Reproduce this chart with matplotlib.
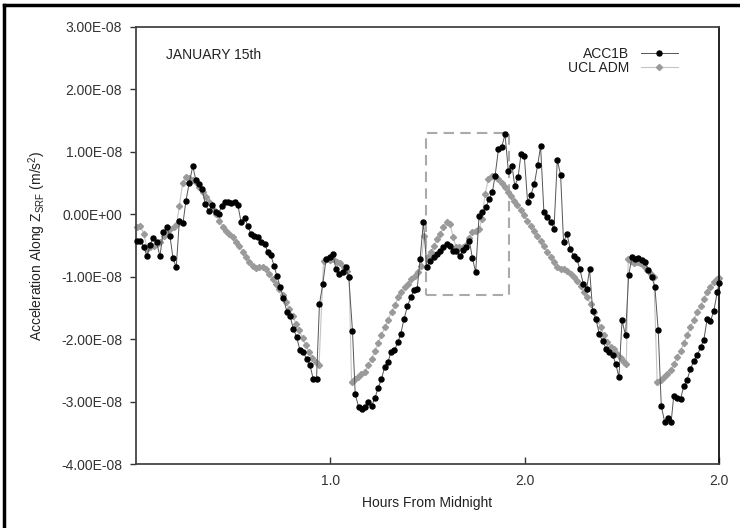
import matplotlib
matplotlib.use("Agg")
import matplotlib.pyplot as plt
from matplotlib.patches import Rectangle
from matplotlib.lines import Line2D
from matplotlib.ticker import FuncFormatter
import numpy as np

plt.rcParams['font.family'] = ['Liberation Sans', 'DejaVu Sans']

SCALE = 1e-8

acc_hours = [0.005,0.022,0.040,0.057,0.072,0.089,0.106,0.123,0.140,0.158,0.175,0.190,0.207,0.223,0.242,
             0.257,0.274,0.292,0.308,0.325,0.341,0.356,0.374,0.392,0.410,0.425,0.441,0.459,0.474,0.488,
             0.507,0.524,0.541,0.559,0.576,0.591,0.608,0.626,0.643,0.662,0.677,0.694,0.711,0.725,0.742,
             0.759,0.776,0.793,0.809,0.826,0.843,0.860,0.878,0.895,0.912,0.929,0.944,0.961,0.978,0.997,
             1.014,1.028,1.045,1.063,1.080,1.095,1.114,1.128,1.145,1.162,1.179,1.196,1.212,1.229,1.246,
             1.263,1.280,1.297,1.312,1.330,1.347,1.362,1.379,1.397,1.414,1.431,1.447,1.462,1.479,1.496,
             1.513,1.531,1.548,1.565,1.582,1.599,1.616,1.633,1.648,1.666,1.683,1.700,1.715,1.731,1.748,
             1.765,1.783,1.799,1.817,1.834,1.848,1.865,1.882,1.899,1.916,1.935,1.949,1.966,1.981,1.998,
             2.015,2.032,2.050,2.067,2.082,2.099,2.117,2.134,2.151,2.168,2.185,2.200,2.218,2.235,2.252,
             2.269,2.284,2.302,2.319,2.334,2.350,2.367,2.384,2.401,2.418,2.435,2.452,2.469,2.485,2.501,
             2.519,2.535,2.552,2.567,2.585,2.602,2.619,2.636,2.653,2.670,2.687,2.703,2.720,2.737,2.754,
             2.767,2.785,2.802,2.819,2.836,2.853,2.870,2.888,2.905,2.922,2.939,2.956,2.973,2.991,3.000]
acc_vals = [-0.42,-0.42,-0.53,-0.67,-0.49,-0.38,-0.45,-0.67,-0.29,-0.21,-0.35,-0.70,-0.85,-0.11,-0.14,
            0.22,0.50,0.77,0.55,0.48,0.40,0.17,0.05,0.15,0.04,0.01,0.13,0.19,0.20,0.18,
            0.20,0.15,-0.13,-0.06,-0.19,-0.31,-0.34,-0.37,-0.44,-0.47,-0.60,-0.66,-0.83,-0.99,-1.16,
            -1.34,-1.56,-1.63,-1.83,-1.96,-2.17,-2.20,-2.32,-2.41,-2.64,-2.64,-1.44,-1.12,-0.72,-0.68,
            -0.64,-0.87,-0.96,-0.92,-0.84,-1.01,-1.87,-2.88,-3.08,-3.12,-3.08,-3.00,-3.07,-2.95,-2.78,
            -2.64,-2.44,-2.36,-2.21,-2.18,-2.05,-1.92,-1.68,-1.47,-1.33,-1.21,-1.19,-0.71,-0.12,-0.84,
            -0.75,-0.69,-0.64,-0.59,-0.53,-0.47,-0.51,-0.59,-0.59,-0.67,-0.58,-0.53,-0.42,-0.70,-0.93,
            -0.03,0.03,0.11,0.24,0.36,0.62,1.04,1.08,1.28,0.69,0.78,0.45,0.59,0.96,0.94,
            0.20,0.31,0.49,0.79,1.09,0.03,-0.05,-0.12,-0.23,0.87,0.63,-0.44,-0.32,-0.56,-0.67,
            -0.72,-0.88,-1.12,-1.19,-0.88,-1.55,-1.68,-1.92,-2.03,-2.15,-2.20,-2.25,-2.40,-2.61,-1.70,
            -1.94,-0.98,-0.69,-0.72,-0.70,-0.74,-0.77,-0.89,-1.00,-1.16,-1.85,-3.07,-3.32,-3.27,-3.32,
            -2.91,-2.95,-2.96,-2.75,-2.65,-2.48,-2.35,-2.26,-2.13,-2.01,-1.68,-1.71,-1.55,-1.25,-1.10]

ucl_hours = [0.005,0.022,0.040,0.057,0.074,0.091,0.108,0.125,0.142,0.159,0.176,0.194,0.209,0.223,0.240,
             0.257,0.274,0.292,0.308,0.325,0.343,0.360,0.377,0.394,0.411,0.428,0.446,0.463,0.480,0.497,
             0.514,0.531,0.549,0.566,0.583,0.600,0.617,0.634,0.651,0.668,0.685,0.703,0.720,0.737,0.754,
             0.771,0.788,0.806,0.823,0.840,0.857,0.874,0.891,0.908,0.925,0.942,0.965,0.982,0.999,1.016,
             1.033,1.050,1.068,1.085,1.097,1.109,1.126,1.143,1.160,1.177,1.194,1.212,1.229,1.246,1.263,
             1.280,1.297,1.315,1.332,1.349,1.366,1.383,1.400,1.417,1.434,1.451,1.465,1.482,1.500,1.517,
             1.534,1.550,1.565,1.582,1.599,1.616,1.632,1.647,1.664,1.681,1.698,1.715,1.731,1.748,1.765,
             1.780,1.796,1.813,1.830,1.847,1.865,1.882,1.899,1.916,1.932,1.947,1.962,1.979,1.996,2.014,
             2.031,2.048,2.065,2.082,2.099,2.117,2.134,2.151,2.168,2.185,2.202,2.220,2.237,2.254,2.271,
             2.288,2.305,2.322,2.339,2.356,2.374,2.391,2.408,2.425,2.442,2.459,2.477,2.494,2.511,2.523,
             2.533,2.545,2.562,2.579,2.596,2.613,2.631,2.648,2.665,2.682,2.699,2.716,2.734,2.751,2.768,
             2.785,2.802,2.819,2.836,2.853,2.870,2.888,2.905,2.922,2.939,2.956,2.973,2.991,3.000]
ucl_vals = [-0.20,-0.19,-0.31,-0.55,-0.53,-0.51,-0.48,-0.44,-0.35,-0.28,-0.24,-0.21,-0.16,0.13,0.50,
            0.59,0.58,0.55,0.51,0.43,0.36,0.28,0.19,0.09,0.00,-0.11,-0.20,-0.26,-0.31,-0.37,
            -0.44,-0.51,-0.60,-0.68,-0.76,-0.83,-0.86,-0.85,-0.85,-0.88,-0.95,-1.03,-1.11,-1.19,-1.30,
            -1.40,-1.51,-1.63,-1.75,-1.86,-1.98,-2.10,-2.21,-2.30,-2.37,-2.41,-0.75,-0.72,-0.74,-0.72,
            -0.76,-0.78,-0.84,-0.91,-1.01,-2.68,-2.64,-2.60,-2.56,-2.52,-2.42,-2.32,-2.19,-2.06,-1.94,
            -1.81,-1.69,-1.56,-1.46,-1.33,-1.25,-1.16,-1.11,-1.04,-0.99,-0.92,-0.83,-0.35,-0.69,-0.61,
            -0.51,-0.40,-0.32,-0.21,-0.13,-0.16,-0.36,-0.53,-0.53,-0.52,-0.49,-0.38,-0.29,-0.27,-0.24,
            -0.08,0.32,0.56,0.61,0.62,0.56,0.50,0.43,0.36,0.29,0.22,0.15,0.07,-0.01,-0.10,
            -0.18,-0.26,-0.35,-0.42,-0.51,-0.60,-0.68,-0.77,-0.84,-0.88,-0.88,-0.91,-0.95,-1.00,-1.07,
            -1.15,-1.24,-1.33,-1.44,-1.57,-1.69,-1.81,-1.93,-2.04,-2.12,-2.16,-2.24,-2.31,-2.36,-2.40,
            -0.72,-0.75,-0.78,-0.77,-0.78,-0.83,-0.90,-0.96,-1.01,-2.69,-2.65,-2.61,-2.56,-2.50,-2.40,
            -2.29,-2.19,-2.06,-1.94,-1.81,-1.69,-1.57,-1.47,-1.35,-1.24,-1.16,-1.09,-1.04,-1.02]

x_ticks = [1.0, 2.0, 3.0]
x_tick_labels = ["1.0", "2.0", "2.0"]
y_ticks = [-4e-8, -3e-8, -2e-8, -1e-8, 0.0, 1e-8, 2e-8, 3e-8]
box_x = [1.49, 1.918]
box_y = [-1.29e-8, 1.30e-8]

fig = plt.figure(figsize=(7.4, 5.28), dpi=100)
ax = fig.add_axes([136/740, 64/528, 583/740, 437/528])

ax.plot(ucl_hours, np.array(ucl_vals) * SCALE, color='#c4c4c4', lw=0.8,
        marker='D', markersize=3.1, markerfacecolor='#9a9a9a', markeredgecolor='#9a9a9a',
        label='UCL ADM', clip_on=False, zorder=2)
ax.plot(acc_hours, np.array(acc_vals) * SCALE, color='#555555', lw=0.7,
        marker='o', markersize=3.6, markerfacecolor='black', markeredgecolor='black',
        label='ACC1B', clip_on=False, zorder=3)

ax.add_patch(Rectangle((box_x[0], box_y[0]), box_x[1] - box_x[0], box_y[1] - box_y[0],
                       fill=False, edgecolor='#aaaaaa', lw=1.5, linestyle=(0, (5, 3)), zorder=1))

ax.set_xlim(0, 3)
ax.set_ylim(-4e-8, 3e-8)
ax.set_xticks(x_ticks)
ax.set_xticklabels(x_tick_labels)
ax.set_yticks(y_ticks)
ax.yaxis.set_major_formatter(FuncFormatter(lambda v, p: f"{v:.2E}"))
ax.tick_params(axis='x', direction='in', length=5, width=1, colors='#333333', labelsize=10, pad=7)
ax.tick_params(axis='y', direction='out', length=4, width=1, colors='#333333', labelsize=10, pad=6)
for s in ax.spines.values():
    s.set_color('#444444')
    s.set_linewidth(1.3)
ax.spines['right'].set_color('#111111')

ax.set_xlabel('Hours From Midnight', fontsize=10, color='#222222', labelpad=6)
ax.set_ylabel(r'Acceleration Along Z$_\mathregular{SRF}$ (m/s$^\mathregular{2}$)', fontsize=10,
              color='#222222', labelpad=9)

ax.text(0.051, 0.936, 'JANUARY 15th', transform=ax.transAxes, fontsize=10, color='#222222',
        va='center', ha='left')

h_acc = Line2D([], [], color='#555555', lw=0.7, marker='o', markersize=3.6,
               markerfacecolor='black', markeredgecolor='black')
h_ucl = Line2D([], [], color='#c4c4c4', lw=0.8, marker='D', markersize=3.1,
               markerfacecolor='#9a9a9a', markeredgecolor='#9a9a9a')
leg = ax.legend([h_acc, h_ucl], ['ACC1B', 'UCL ADM'], loc='upper right',
                bbox_to_anchor=(0.93, 0.955), frameon=False, markerfirst=False,
                fontsize=10, handlelength=2.7, labelspacing=0.05, borderpad=0,
                borderaxespad=0, handletextpad=0.8)
for t in leg.get_texts():
    t.set_color('#222222')

# partial figure frame (top and left)
fig.add_artist(Line2D([4/740, 1.0], [1 - 4.5/528, 1 - 4.5/528], color='black', lw=2.5,
                      transform=fig.transFigure))
fig.add_artist(Line2D([3.5/740, 3.5/740], [0.0, 1 - 4.5/528], color='black', lw=2.5,
                      transform=fig.transFigure))

fig.savefig('out.png', dpi=100)
